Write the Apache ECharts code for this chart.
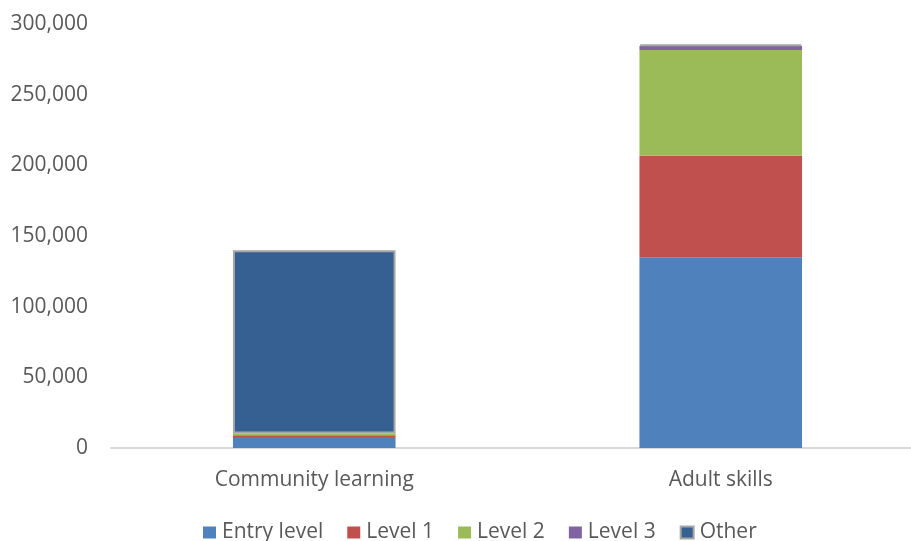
<!DOCTYPE html>
<html><head><meta charset="utf-8">
<script src="https://cdn.jsdelivr.net/npm/echarts@6/dist/echarts.min.js"></script>
<style>html,body{margin:0;padding:0;background:#fff;overflow:hidden;width:911px;height:541px}#c{width:924px;height:541px}</style>
</head><body><div id="c"></div>
<script>
const categories = ['Community learning', 'Adult skills'];
const entryLevel = [7800, 135000];
const level1 = [1300, 71800];
const level2 = [900, 74800];
const level3 = [300, 2900];
const other = [129700, 1000];
const seriesNames = ['Entry level', 'Level 1', 'Level 2', 'Level 3', 'Other'];
const yTicks = [0, 50000, 100000, 150000, 200000, 250000, 300000];

const colors = ['#4F81BD', '#C0504D', '#9BBB59', '#8064A2', '#376092'];
const dataSets = [entryLevel, level1, level2, level3, other];
const font = 'Open Sans';
const chart = echarts.init(document.getElementById('c'));
chart.setOption({
  animation: false,
  grid: {left: 111, right: 0, top: 24, bottom: 93, containLabel: false},
  legend: {
    top: 517, left: 198, itemWidth: 13, itemHeight: 12, itemGap: 24,
    icon: 'rect',
    textStyle: {color: '#595959', fontSize: 21, fontFamily: font, padding: [0, 0, 0, 1]},
    data: seriesNames
  },
  xAxis: {
    type: 'category', data: categories,
    axisLine: {lineStyle: {color: '#d9d9d9', width: 2}},
    axisTick: {show: false},
    axisLabel: {color: '#595959', fontSize: 21, fontFamily: font, margin: 22}
  },
  yAxis: {
    type: 'value', min: yTicks[0], max: yTicks[yTicks.length - 1], interval: 50000,
    axisLine: {show: false}, axisTick: {show: false}, splitLine: {show: false},
    axisLabel: {color: '#595959', fontSize: 21, fontFamily: font, margin: 23,
      formatter: v => v.toLocaleString('en-US')}
  },
  series: seriesNames.map((n, i) => ({
    name: n, type: 'bar', stack: 'total', barWidth: '40%',
    data: dataSets[i],
    itemStyle: i === 4 ? {color: colors[i], borderColor: '#a6a6a6', borderWidth: 2} : {color: colors[i]}
  }))
});
</script></body></html>
